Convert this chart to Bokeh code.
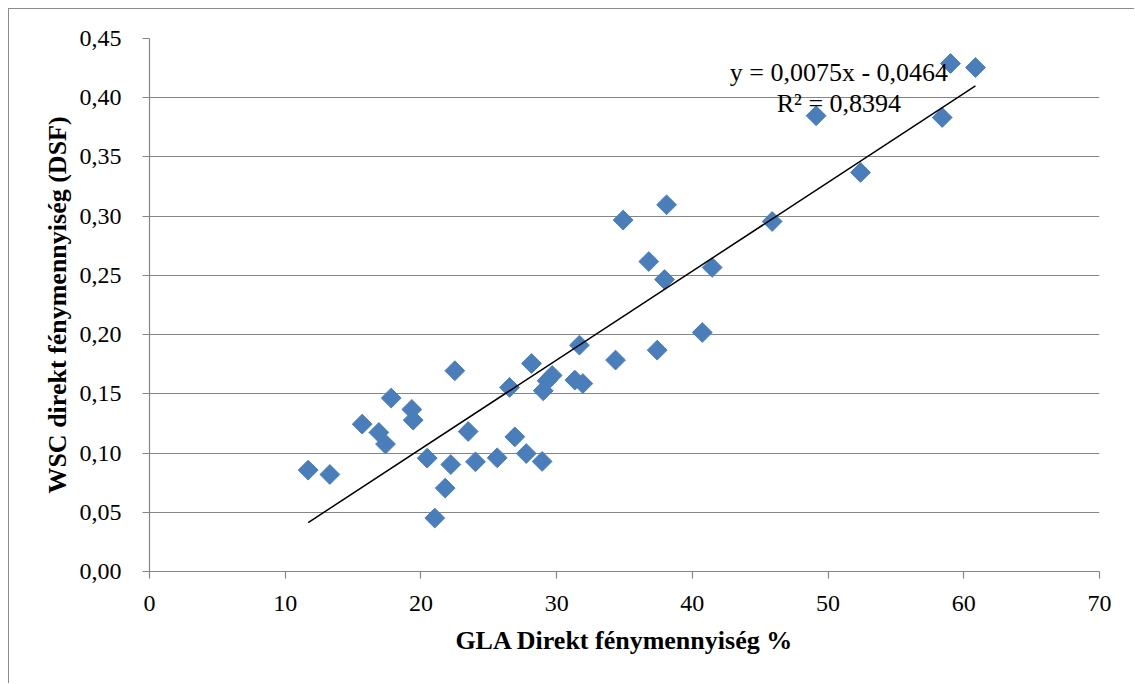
import numpy as np
from bokeh.plotting import figure
from bokeh.models import FixedTicker, Label, CustomJSTickFormatter
from bokeh.embed import file_html
from bokeh.resources import INLINE

# ---- data ----
gla = [11.69, 13.29, 15.67, 16.90, 17.39, 17.81, 19.33, 19.43, 20.46, 21.02,
       21.79, 22.20, 22.50, 23.48, 24.02, 25.62, 26.53, 26.92, 27.76, 28.93,
       28.15, 29.01, 29.67, 29.30, 31.34, 31.93, 31.68, 34.34, 37.41, 40.73,
       34.90, 38.10, 36.79, 37.95, 41.46, 45.88, 49.12, 52.39, 58.41, 59.02,
       60.86]
wsc = [0.0856, 0.0819, 0.1244, 0.1174, 0.1076, 0.1464, 0.1368, 0.1278, 0.0957, 0.0451,
       0.0704, 0.0903, 0.1695, 0.1182, 0.0926, 0.0960, 0.1554, 0.1137, 0.0996, 0.0929,
       0.1756, 0.1526, 0.1655, 0.1610, 0.1616, 0.1587, 0.1911, 0.1785, 0.1869, 0.2018,
       0.2967, 0.3096, 0.2617, 0.2465, 0.2567, 0.2955, 0.3848, 0.3369, 0.3833, 0.4289,
       0.4255]

trend_slope = 0.0075
trend_intercept = -0.0464
eq_line1 = "y = 0,0075x - 0,0464"
eq_line2 = "R² = 0,8394"

x_ticks = [0, 10, 20, 30, 40, 50, 60, 70]
x_tick_labels = ["0", "10", "20", "30", "40", "50", "60", "70"]
y_ticks = [0.0, 0.05, 0.1, 0.15, 0.2, 0.25, 0.3, 0.35, 0.4, 0.45]
y_tick_labels = ["0,00", "0,05", "0,10", "0,15", "0,20", "0,25", "0,30", "0,35", "0,40", "0,45"]

x_title = "GLA Direkt fénymennyiség %"
y_title = "WSC direkt fénymennyiség (DSF)"

# ---- styles ----
FONT = "Liberation Serif"
GRID = "#868686"
MARK = "#4a7ebb"

LOOKUP = """
for (let i = 0; i < tvals.length; i++) {
  if (Math.abs(tvals[i] - tick) < 1e-9) { return tlabels[i]; }
}
return "";
"""

p = figure(width=1126, height=675, x_range=(0, 70), y_range=(0, 0.45),
           output_backend="svg", toolbar_location=None,
           min_border_left=140, min_border_right=36,
           min_border_top=29, min_border_bottom=113)
p.styles = {"margin-left": "8px", "margin-top": "8px",
            "border-top": "1px solid #8c8c8c", "border-left": "1px solid #8c8c8c"}
p.outline_line_color = None
p.background_fill_color = "white"
p.border_fill_color = "white"

p.xgrid.visible = False
p.ygrid.ticker = FixedTicker(ticks=y_ticks)
p.ygrid.grid_line_color = GRID
p.ygrid.grid_line_width = 1.2

p.xaxis.ticker = FixedTicker(ticks=x_ticks)
p.xaxis.formatter = CustomJSTickFormatter(args=dict(tvals=x_ticks, tlabels=x_tick_labels), code=LOOKUP)
p.yaxis.ticker = FixedTicker(ticks=y_ticks)
p.yaxis.formatter = CustomJSTickFormatter(args=dict(tvals=y_ticks, tlabels=y_tick_labels), code=LOOKUP)

for ax in (p.xaxis[0], p.yaxis[0]):
    ax.axis_line_color = GRID
    ax.axis_line_width = 1.2
    ax.major_tick_line_color = GRID
    ax.major_tick_line_width = 1.2
    ax.major_tick_in = 0
    ax.major_tick_out = 7
    ax.minor_tick_line_color = None
    ax.major_label_text_font = FONT
    ax.major_label_text_font_size = "24px"
    ax.major_label_text_color = "black"
    ax.axis_label_text_font = FONT
    ax.axis_label_text_font_size = "26px"
    ax.axis_label_text_font_style = "bold"
    ax.axis_label_text_color = "black"

p.xaxis.axis_label = x_title
p.yaxis.axis_label = y_title
p.yaxis.major_label_standoff = 21
p.xaxis.major_label_standoff = 17
p.yaxis.axis_label_standoff = 5
p.xaxis.axis_label_standoff = 12

p.scatter(gla, wsc, marker="square", size=14, angle=np.pi / 4,
          fill_color=MARK, line_color=MARK)

tx = np.array([min(gla), max(gla)])
ty = trend_slope * tx + trend_intercept
p.line(tx, ty, line_color="black", line_width=1.5)

eq_x = 50.8
p.add_layout(Label(x=eq_x, y=0.4213, text=eq_line1, text_align="center",
                   text_baseline="alphabetic", text_font=FONT,
                   text_font_size="26px", text_color="black"))
p.add_layout(Label(x=eq_x, y=0.3951, text=eq_line2, text_align="center",
                   text_baseline="alphabetic", text_font=FONT,
                   text_font_size="26px", text_color="black"))

open("out.html", "w").write(file_html(p, INLINE))
